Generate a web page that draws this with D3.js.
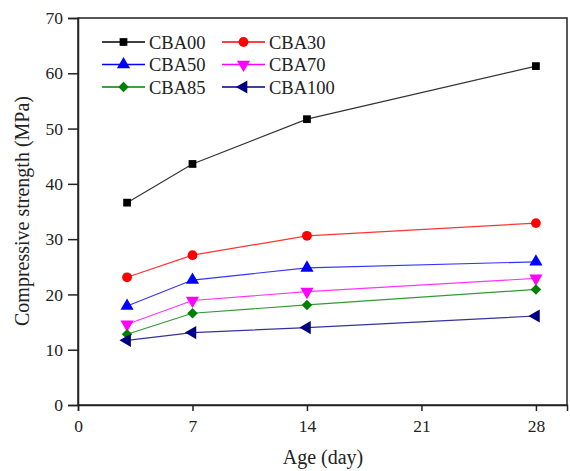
<!DOCTYPE html>
<html>
<head>
<meta charset="utf-8">
<script src="https://cdn.jsdelivr.net/npm/d3@7"></script>
<style>
  body { margin: 0; background: #fff; }
  svg text { font-family: "Liberation Serif", "Times New Roman", Times, serif !important; }
</style>
</head>
<body>
<div id="chart"></div>
<script>
"use strict";

const WIDTH = 570, HEIGHT = 471;
const FONT = "Liberation Serif";

// data
var ages = [3, 7, 14, 28];
var names = ["CBA00", "CBA30", "CBA50", "CBA70", "CBA85", "CBA100"];
var cba00 = [36.6, 43.6, 51.7, 61.3];
var cba30 = [23.1, 27.1, 30.6, 32.9];
var cba50 = [17.9, 22.6, 24.8, 25.9];
var cba70 = [14.6, 18.9, 20.5, 22.9];
var cba85 = [12.8, 16.6, 18.1, 20.9];
var cba100 = [11.7, 13.1, 14.0, 16.1];
var xTicks = [0, 7, 14, 21, 28];
var yTicks = [0, 10, 20, 30, 40, 50, 60, 70];

var colors = ["#000000", "#ff0000", "#0000ff", "#ff00ff", "#008000", "#000080"];
var symbols = ["square", "circle", "up", "down", "diamond", "left"];
var allValues = [cba00, cba30, cba50, cba70, cba85, cba100];

var series = names.map(function(n, i) {
  return { name: n, color: colors[i], symbol: symbols[i], values: allValues[i] };
});

var margin = { left: 78, right: 3, top: 18, bottom: 66 };

var svg = d3.select("#chart").append("svg")
  .attr("width", WIDTH)
  .attr("height", HEIGHT)
  .attr("font-family", FONT);

var xScale = d3.scaleLinear()
  .domain([0, 29.9])
  .range([margin.left, WIDTH - margin.right]);
var yScale = d3.scaleLinear()
  .domain([0, 70])
  .range([HEIGHT - margin.bottom, margin.top]);

// frame
svg.append("rect")
  .attr("x", xScale(0))
  .attr("y", yScale(70))
  .attr("width", xScale(29.9) - xScale(0))
  .attr("height", yScale(0) - yScale(70))
  .attr("fill", "none")
  .attr("stroke", "#222")
  .attr("stroke-width", 1.5);

var xAxis = svg.append("g")
  .attr("transform", "translate(0," + yScale(0) + ")")
  .call(d3.axisBottom(xScale).tickValues(xTicks).tickSize(6).tickPadding(9));
var yAxis = svg.append("g")
  .attr("transform", "translate(" + xScale(0) + ",0)")
  .call(d3.axisLeft(yScale).tickValues(yTicks).tickSize(10).tickPadding(5));

[xAxis, yAxis].forEach(function(ax) {
  ax.attr("font-family", FONT);
  ax.select(".domain").attr("stroke", "#222").attr("stroke-width", 1.5);
  ax.selectAll(".tick line").attr("stroke", "#222").attr("stroke-width", 1.5);
  ax.selectAll(".tick text")
    .attr("font-family", FONT)
    .attr("font-size", 17.5)
    .attr("fill", "#222");
});

svg.append("text")
  .attr("x", 323)
  .attr("y", 464)
  .attr("text-anchor", "middle")
  .attr("font-family", FONT)
  .attr("font-size", 20)
  .attr("fill", "#222")
  .text("Age (day)");

svg.append("text")
  .attr("transform", "translate(29,211) rotate(-90)")
  .attr("text-anchor", "middle")
  .attr("font-family", FONT)
  .attr("font-size", 20)
  .attr("fill", "#222")
  .text("Compressive strength (MPa)");

function markerPath(sym) {
  var tri = d3.symbol().type(d3.symbolTriangle).size(75)();
  if (sym === "up") return { d: tri, rot: 0 };
  if (sym === "down") return { d: tri, rot: 180 };
  if (sym === "left") return { d: tri, rot: -90 };
  if (sym === "diamond") return { d: d3.symbol().type(d3.symbolSquare).size(55)(), rot: 45 };
  if (sym === "circle") return { d: d3.symbol().type(d3.symbolCircle).size(75)(), rot: 0 };
  return { d: d3.symbol().type(d3.symbolSquare).size(60)(), rot: 0 };
}

var line = d3.line()
  .x(function(d, i) { return xScale(ages[i]); })
  .y(function(d) { return yScale(d); });

series.forEach(function(s) {
  svg.append("path")
    .datum(s.values)
    .attr("fill", "none")
    .attr("stroke", s.color)
    .attr("stroke-width", 1.2)
    .attr("stroke-opacity", 0.8)
    .attr("d", line);
  var m = markerPath(s.symbol);
  svg.selectAll(null)
    .data(s.values)
    .enter().append("path")
    .attr("d", m.d)
    .attr("fill", s.color)
    .attr("transform", function(d, i) {
      return "translate(" + xScale(ages[i]) + "," + yScale(d) + ") rotate(" + m.rot + ")";
    });
});

// legend
var legend = svg.append("g");
series.forEach(function(s, i) {
  var col = i % 2, row = Math.floor(i / 2);
  var x0 = 102 + col * 120, y0 = 42 + row * 22.5;
  var g = legend.append("g").attr("transform", "translate(" + x0 + "," + y0 + ")");
  g.append("line")
    .attr("x1", 0).attr("x2", 43)
    .attr("y1", 0).attr("y2", 0)
    .attr("stroke", s.color)
    .attr("stroke-width", 1.4);
  var m = markerPath(s.symbol);
  g.append("path")
    .attr("d", m.d)
    .attr("fill", s.color)
    .attr("transform", "translate(21.5,0) rotate(" + m.rot + ")");
  g.append("text")
    .attr("x", 47)
    .attr("y", 6.5)
    .attr("font-family", FONT)
    .attr("font-size", 18.5)
    .attr("fill", "#222")
    .text(s.name);
});
</script>
</body>
</html>
